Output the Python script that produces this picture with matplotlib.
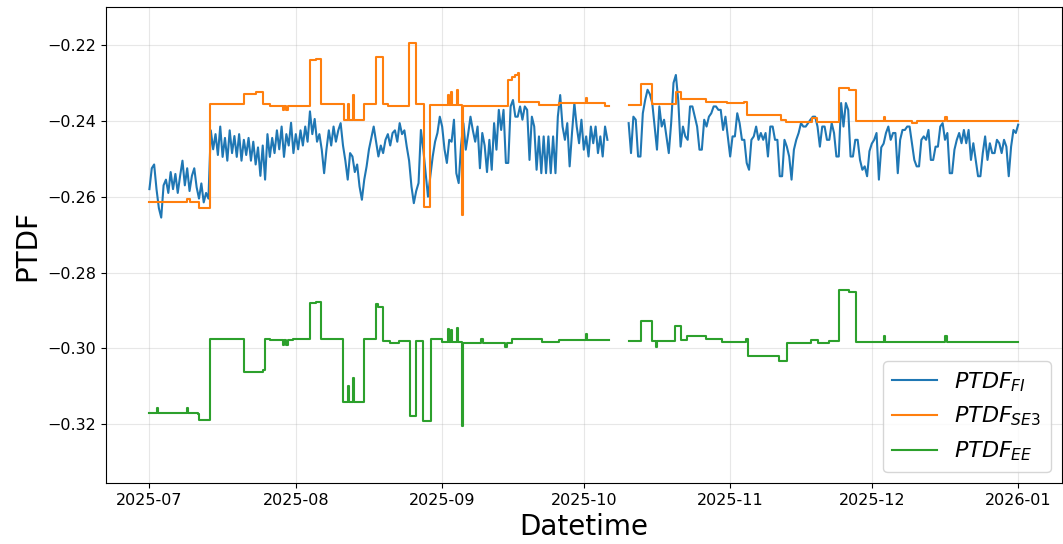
import numpy as np
import pandas as pd
import matplotlib
matplotlib.use("Agg")
import matplotlib.pyplot as plt

nan = np.nan

# === PTDF FI, two samples per day (00:00 and 12:00) ===
fi_start = "2025-07-01"
fi_vals = [
    -0.2580, -0.2525, -0.2515, -0.2580, -0.2630, -0.2655, -0.2570, -0.2555,
    -0.2590, -0.2535, -0.2580, -0.2540, -0.2590, -0.2545, -0.2505, -0.2570,
    -0.2525, -0.2585, -0.2545, -0.2525, -0.2575, -0.2605, -0.2565, -0.2615,
    -0.2590, -0.2605, -0.2425, -0.2475, -0.2435, -0.2490, -0.2415, -0.2495,
    -0.2445, -0.2505, -0.2425, -0.2485, -0.2440, -0.2495, -0.2435, -0.2505,
    -0.2450, -0.2490, -0.2445, -0.2505, -0.2455, -0.2515, -0.2470, -0.2545,
    -0.2465, -0.2555, -0.2435, -0.2495, -0.2445, -0.2485, -0.2425, -0.2475,
    -0.2415, -0.2495, -0.2435, -0.2465, -0.2405, -0.2485, -0.2435, -0.2475,
    -0.2425, -0.2465, -0.2415, -0.2455, -0.2375, -0.2435, -0.2395, -0.2455,
    -0.2435, -0.2476, -0.2538, -0.2475, -0.2425, -0.2465, -0.2415, -0.2455,
    -0.2425, -0.2406, -0.2465, -0.2505, -0.2555, -0.2485, -0.2494, -0.2535,
    -0.2515, -0.2573, -0.2608, -0.2555, -0.2520, -0.2475, -0.2445, -0.2415,
    -0.2455, -0.2494, -0.2465, -0.2485, -0.2450, -0.2435, -0.2465, -0.2432,
    -0.2425, -0.2455, -0.2406, -0.2435, -0.2425, -0.2468, -0.2505, -0.2573,
    -0.2617, -0.2585, -0.2564, -0.2424, -0.2475, -0.2538, -0.2600, -0.2545,
    -0.2494, -0.2455, -0.2432, -0.2389, -0.2415, -0.2475, -0.2511, -0.2450,
    -0.2455, -0.2397, -0.2538, -0.2564, -0.2465, -0.2406, -0.2476, -0.2435,
    -0.2389, -0.2425, -0.2455, -0.2415, -0.2525, -0.2432, -0.2465, -0.2535,
    -0.2450, -0.2529, -0.2406, -0.2476, -0.2371, -0.2424, -0.2371, -0.2511,
    -0.2511, -0.2362, -0.2345, -0.2389, -0.2389, -0.2362, -0.2397, -0.2362,
    -0.2371, -0.2503, -0.2389, -0.2415, -0.2529, -0.2441, -0.2538, -0.2441,
    -0.2538, -0.2441, -0.2538, -0.2441, -0.2538, -0.2389, -0.2332, -0.2415,
    -0.2450, -0.2406, -0.2520, -0.2432, -0.2353, -0.2415, -0.2459, -0.2397,
    -0.2476, -0.2441, -0.2494, -0.2415, -0.2459, -0.2415, -0.2485, -0.2441,
    -0.2494, -0.2415, -0.2450, nan, nan, nan, nan, nan,
    nan, nan, nan, -0.2406, -0.2485, -0.2389, -0.2397, -0.2494,
    -0.2494, -0.2380, -0.2345, -0.2318, -0.2330, -0.2353, -0.2415, -0.2476,
    -0.2362, -0.2415, -0.2397, -0.2441, -0.2485, -0.2406, -0.2300, -0.2279,
    -0.2345, -0.2468, -0.2415, -0.2441, -0.2450, -0.2362, -0.2362, -0.2389,
    -0.2415, -0.2476, -0.2476, -0.2397, -0.2415, -0.2389, -0.2380, -0.2362,
    -0.2362, -0.2371, -0.2371, -0.2424, -0.2389, -0.2441, -0.2494, -0.2441,
    -0.2441, -0.2380, -0.2406, -0.2450, -0.2450, -0.2511, -0.2529, -0.2450,
    -0.2441, -0.2415, -0.2450, -0.2432, -0.2450, -0.2432, -0.2494, -0.2415,
    -0.2415, -0.2450, -0.2450, -0.2546, -0.2546, -0.2450, -0.2468, -0.2494,
    -0.2555, -0.2476, -0.2450, -0.2432, -0.2406, -0.2415, -0.2415, -0.2406,
    -0.2397, -0.2389, -0.2389, -0.2415, -0.2468, -0.2415, -0.2415, -0.2450,
    -0.2450, -0.2406, -0.2432, -0.2494, -0.2494, -0.2353, -0.2415, -0.2353,
    -0.2371, -0.2494, -0.2494, -0.2450, -0.2450, -0.2503, -0.2529, -0.2520,
    -0.2546, -0.2480, -0.2460, -0.2450, -0.2432, -0.2555, -0.2470, -0.2460,
    -0.2432, -0.2415, -0.2450, -0.2432, -0.2432, -0.2538, -0.2450, -0.2424,
    -0.2424, -0.2415, -0.2415, -0.2459, -0.2503, -0.2520, -0.2520, -0.2450,
    -0.2441, -0.2450, -0.2424, -0.2503, -0.2503, -0.2468, -0.2468, -0.2415,
    -0.2406, -0.2450, -0.2432, -0.2538, -0.2538, -0.2476, -0.2450, -0.2432,
    -0.2459, -0.2424, -0.2459, -0.2424, -0.2503, -0.2459, -0.2503, -0.2546,
    -0.2546, -0.2485, -0.2441, -0.2503, -0.2459, -0.2485, -0.2485, -0.2450,
    -0.2459, -0.2485, -0.2450, -0.2468, -0.2546, -0.2468, -0.2424, -0.2432,
    -0.2410,
]

# === PTDF SE3: step changes (time, new value) ===
se3_times = [
    "2025-07-01 00:00", "2025-07-09 00:00", "2025-07-09 12:00", "2025-07-11 14:00",
    "2025-07-13 22:00", "2025-07-21 02:00", "2025-07-23 12:00", "2025-07-25 02:00",
    "2025-07-26 12:00", "2025-07-29 06:00", "2025-07-29 12:00", "2025-07-30 00:00",
    "2025-07-30 08:00", "2025-08-04 02:00", "2025-08-05 06:00", "2025-08-06 10:00",
    "2025-08-11 07:00", "2025-08-12 00:00", "2025-08-12 04:00", "2025-08-13 04:00",
    "2025-08-13 09:00", "2025-08-15 12:00", "2025-08-18 02:00", "2025-08-19 10:00",
    "2025-08-20 12:00", "2025-08-25 02:00", "2025-08-26 12:00", "2025-08-28 05:00",
    "2025-08-29 12:00", "2025-09-02 05:00", "2025-09-02 10:00", "2025-09-02 22:00",
    "2025-09-03 03:00", "2025-09-04 02:00", "2025-09-04 08:00", "2025-09-05 07:00",
    "2025-09-05 10:00", "2025-09-14 22:00", "2025-09-15 20:00", "2025-09-16 12:00",
    "2025-09-17 00:00", "2025-09-17 07:00", "2025-09-21 12:00", "2025-09-25 18:00",
    "2025-10-01 09:00", "2025-10-01 15:00", "2025-10-05 12:00", "2025-10-06 08:00",
    "2025-10-10 14:00", "2025-10-13 05:00", "2025-10-15 12:00", "2025-10-20 14:00",
    "2025-10-21 14:00", "2025-10-26 22:00", "2025-10-31 10:00", "2025-11-04 00:00",
    "2025-11-04 14:00", "2025-11-11 19:00", "2025-11-12 22:00", "2025-11-18 10:00",
    "2025-11-19 10:00", "2025-11-24 02:00", "2025-11-26 05:00", "2025-11-27 14:00",
    "2025-12-03 14:00", "2025-12-03 20:00", "2025-12-09 12:00", "2025-12-10 12:00",
    "2025-12-16 14:00", "2025-12-16 20:00", "2026-01-01 00:00",
]
se3_vals = [
    -0.2613, -0.2605, -0.2613, -0.2630,
    -0.2355, -0.2328, -0.2325, -0.2355,
    -0.2360, -0.2371, -0.2360, -0.2371,
    -0.2360, -0.2240, -0.2236, -0.2355,
    -0.2397, -0.2355, -0.2397, -0.2332,
    -0.2397, -0.2355, -0.2231, -0.2355,
    -0.2360, -0.2195, -0.2355, -0.2627,
    -0.2358, -0.2332, -0.2358, -0.2323,
    -0.2358, -0.2318, -0.2358, -0.2647,
    -0.2361, -0.2292, -0.2285, -0.2280,
    -0.2275, -0.2349, -0.2358, -0.2352,
    -0.2340, -0.2352, -0.2362, nan,
    -0.2358, -0.2303, -0.2355, -0.2323,
    -0.2343, -0.2349, -0.2353, -0.2349,
    -0.2384, -0.2397, -0.2403, -0.2393,
    -0.2403, -0.2314, -0.2318, -0.2400,
    -0.2390, -0.2400, -0.2405, -0.2400,
    -0.2390, -0.2400, -0.2400,
]

# === PTDF EE: step changes (time, new value) ===
ee_times = [
    "2025-07-01 00:00", "2025-07-02 16:00", "2025-07-02 22:00", "2025-07-09 00:00",
    "2025-07-09 06:00", "2025-07-11 05:00", "2025-07-11 14:00", "2025-07-13 22:00",
    "2025-07-21 02:00", "2025-07-25 02:00", "2025-07-25 10:00", "2025-07-26 12:00",
    "2025-07-29 06:00", "2025-07-29 12:00", "2025-07-30 00:00", "2025-07-30 08:00",
    "2025-07-31 12:00", "2025-08-04 02:00", "2025-08-05 06:00", "2025-08-06 10:00",
    "2025-08-11 02:00", "2025-08-12 00:00", "2025-08-12 04:00", "2025-08-13 04:00",
    "2025-08-13 09:00", "2025-08-15 12:00", "2025-08-18 02:00", "2025-08-18 12:00",
    "2025-08-19 10:00", "2025-08-21 00:00", "2025-08-22 22:00", "2025-08-25 07:00",
    "2025-08-26 12:00", "2025-08-28 00:00", "2025-08-29 14:00", "2025-09-01 00:00",
    "2025-09-02 05:00", "2025-09-02 10:00", "2025-09-02 22:00", "2025-09-03 03:00",
    "2025-09-04 02:00", "2025-09-04 08:00", "2025-09-05 07:00", "2025-09-05 10:00",
    "2025-09-09 07:00", "2025-09-09 14:00", "2025-09-14 05:00", "2025-09-14 20:00",
    "2025-09-15 17:00", "2025-09-22 05:00", "2025-09-25 18:00", "2025-10-01 09:00",
    "2025-10-01 15:00", "2025-10-06 08:00", "2025-10-10 14:00", "2025-10-13 05:00",
    "2025-10-15 12:00", "2025-10-16 07:00", "2025-10-16 12:00", "2025-10-20 10:00",
    "2025-10-21 14:00", "2025-10-22 22:00", "2025-10-26 22:00", "2025-10-30 07:00",
    "2025-11-04 07:00", "2025-11-04 17:00", "2025-11-11 10:00", "2025-11-13 02:00",
    "2025-11-18 05:00", "2025-11-19 17:00", "2025-11-22 00:00", "2025-11-24 02:00",
    "2025-11-26 05:00", "2025-11-27 14:00", "2025-12-03 14:00", "2025-12-03 20:00",
    "2025-12-16 14:00", "2025-12-16 20:00", "2026-01-01 00:00",
]
ee_vals = [
    -0.3171, -0.3158, -0.3171, -0.3158,
    -0.3171, -0.3174, -0.3190, -0.2974,
    -0.3063, -0.3058, -0.2974, -0.2979,
    -0.2990, -0.2979, -0.2990, -0.2979,
    -0.2976, -0.2880, -0.2877, -0.2974,
    -0.3142, -0.3100, -0.3142, -0.3077,
    -0.3142, -0.2974, -0.2883, -0.2890,
    -0.2981, -0.2987, -0.2981, -0.3179,
    -0.2981, -0.3192, -0.2976, -0.2984,
    -0.2950, -0.2984, -0.2952, -0.2984,
    -0.2945, -0.2984, -0.3205, -0.2987,
    -0.2976, -0.2987, -0.2997, -0.2987,
    -0.2976, -0.2984, -0.2979, -0.2961,
    -0.2979, nan, -0.2981, -0.2929,
    -0.2981, -0.2995, -0.2981, -0.2942,
    -0.2979, -0.2968, -0.2976, -0.2984,
    -0.2976, -0.3019, -0.3032, -0.2987,
    -0.2979, -0.2987, -0.2981, -0.2847,
    -0.2852, -0.2984, -0.2968, -0.2984,
    -0.2968, -0.2984, -0.2984,
]

labels = [r"$PTDF_{FI}$", r"$PTDF_{SE3}$", r"$PTDF_{EE}$"]

fi_t = pd.date_range(fi_start, periods=len(fi_vals), freq="12h")
se3_t = pd.to_datetime(se3_times)
ee_t = pd.to_datetime(ee_times)

# === Plot ===
fig = plt.figure(figsize=(10.63, 5.44), dpi=100)
ax = fig.add_axes([0.0997, 0.112, 0.899, 0.875])

ax.plot(fi_t, fi_vals, color="tab:blue", label=labels[0])
ax.plot(se3_t, se3_vals, color="tab:orange", drawstyle="steps-post", label=labels[1])
ax.plot(ee_t, ee_vals, color="tab:green", drawstyle="steps-post", label=labels[2])

ax.set_ylim(-0.3355, -0.2100)
ax.set_xlabel("Datetime", fontsize=20)
ax.set_ylabel("PTDF", fontsize=20)
ax.tick_params(labelsize=11.5)
ax.grid(True, alpha=0.3)
ax.legend(loc="lower right", fontsize=16)

fig.savefig("out.png", dpi=100)
